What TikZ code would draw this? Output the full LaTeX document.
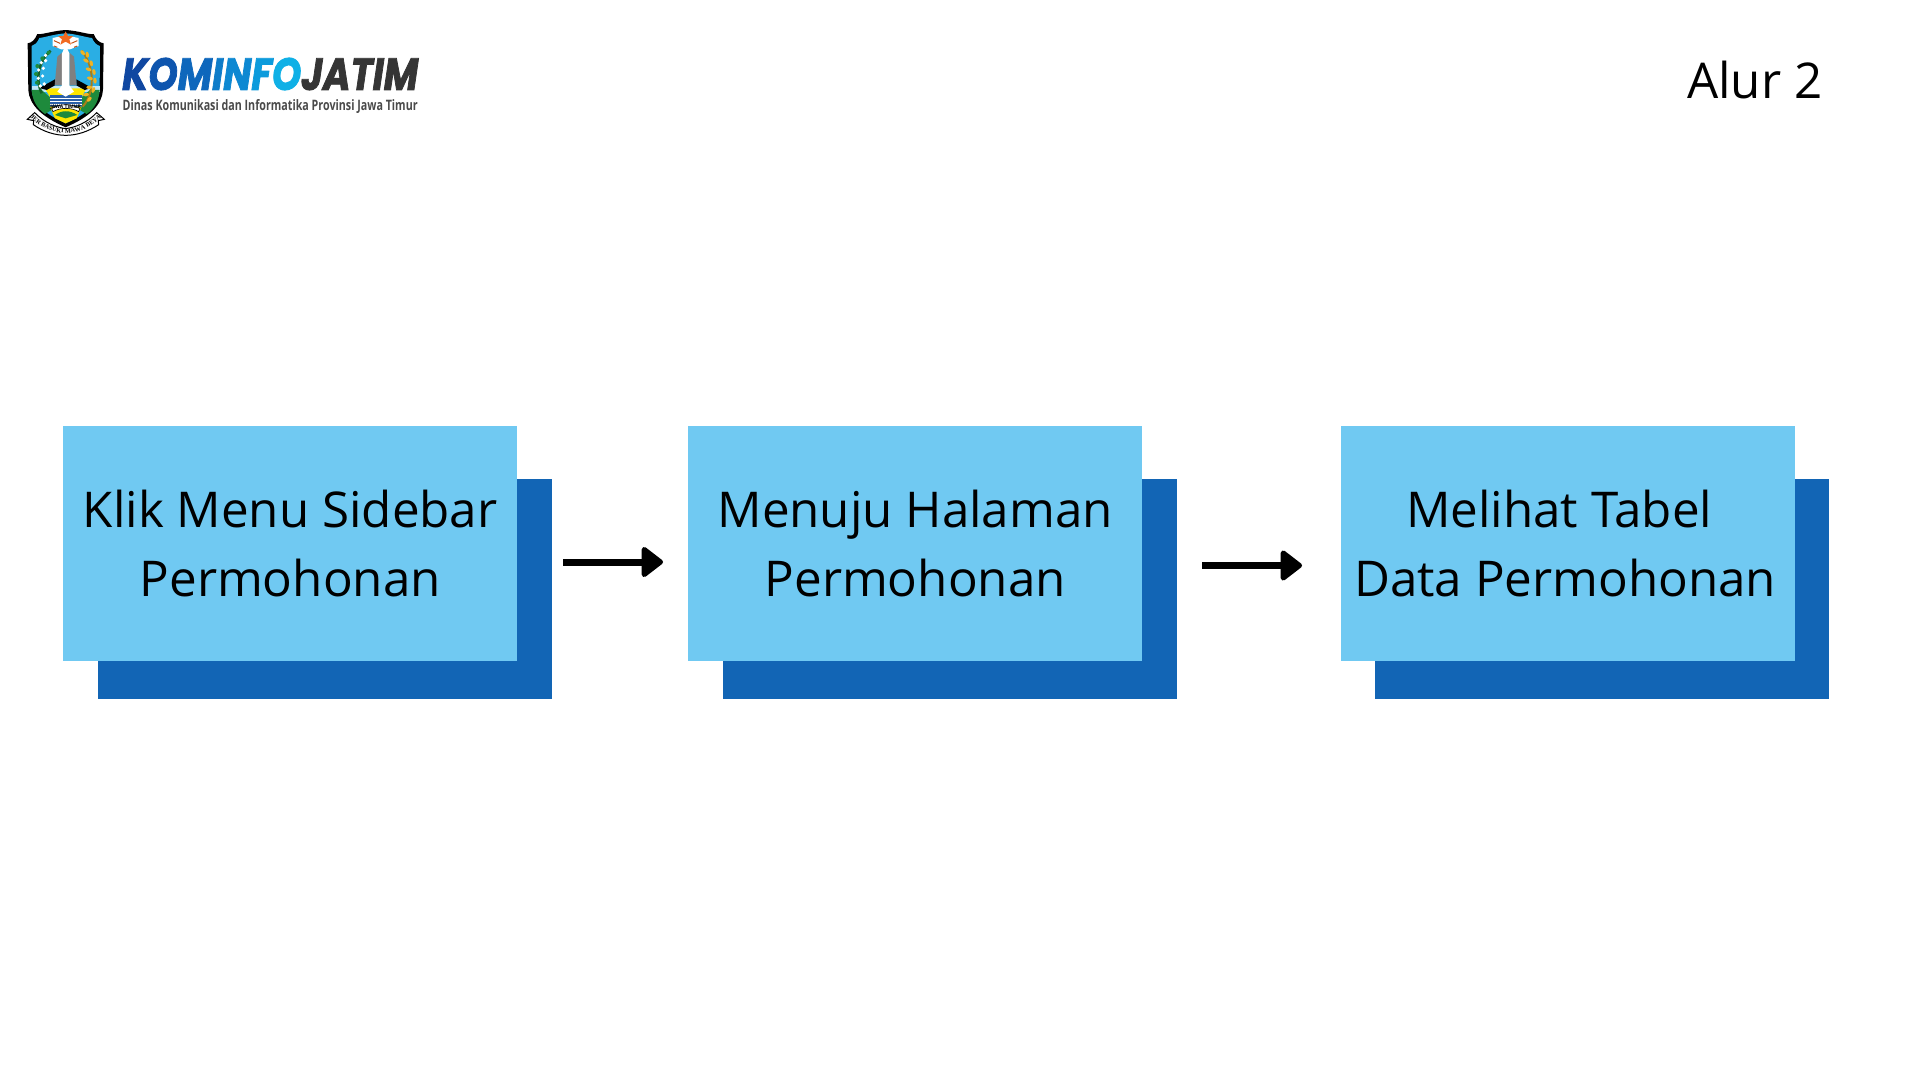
\documentclass[tikz,border=0pt]{standalone}
\usepackage{fontspec}
\usepackage{graphicx}
\setmainfont{Open Sans}
\newfontfamily\wordfont{Poppins}
\newfontfamily\mottofont{Liberation Serif}
\usetikzlibrary{arrows.meta,decorations.text}
\definecolor{lightbox}{HTML}{70C9F2}
\definecolor{darkbox}{HTML}{1265B5}
\definecolor{logoink}{HTML}{353535}
\definecolor{tagink}{HTML}{4A4A4A}
\definecolor{sky}{HTML}{2AAEE4}
\definecolor{leaf}{HTML}{1E8A3C}
\definecolor{grain}{HTML}{F0B323}
\definecolor{sun}{HTML}{FFE500}
\definecolor{sea}{HTML}{2B5FA8}
\definecolor{star}{HTML}{F26A21}
\tikzset{
  front/.style={fill=lightbox,draw=none,minimum width=454pt,minimum height=235pt,inner sep=0pt,anchor=north west,
    align=center,font=\fontsize{49.3}{69}\selectfont,text=black},
  back/.style={fill=darkbox,draw=none,minimum width=454pt,minimum height=220pt,inner sep=0pt,anchor=north west},
  flow/.style={line width=7pt,draw=black,-{Triangle[round,length=23pt,width=34pt,line width=5pt]}},
  title/.style={font=\fontsize{49.3}{60}\selectfont,text=black,inner sep=0pt},
}
\begin{document}
\begin{tikzpicture}[x=1pt,y=-1pt]
\useasboundingbox[fill=white] (0,0) rectangle (1920,1080);

% flow boxes
\node[back] (b1) at (97.5,479) {};
\node[back] (b2) at (722.5,479) {};
\node[back] (b3) at (1375,479) {};
\node[front] (f1) at (63,426) {Klik Menu Sidebar\\Permohonan};
\node[front] (f2) at (688,426) {Menuju Halaman\\Permohonan};
\node[front] (f3) at (1341,426) {\hspace*{-6pt}Melihat Tabel\hspace*{12pt}\\\hspace*{-6pt}Data Permohonan};

% arrows
\coordinate (a1s) at (563,562);
\coordinate (a1e) at (663,562);
\coordinate (a2s) at (1202,565.5);
\coordinate (a2e) at (1302,565.5);
\draw[flow] (a1s) -- (a1e);
\draw[flow] (a2s) -- (a2e);

% title
\node[title,anchor=base east] (alur) at (1822.5,98.5) {Alur 2};

% logo wordmark
\node[anchor=west,inner sep=0pt] (word) at (122,74) {\resizebox{296pt}{32pt}{\wordfont\addfontfeature{FakeBold=2}\fontsize{40}{40}\selectfont\itshape\bfseries
 \textcolor[HTML]{0F47A1}{K}\textcolor[HTML]{0E55AE}{O}\textcolor[HTML]{0E67BC}{M}\textcolor[HTML]{0E7CC9}{I}\textcolor[HTML]{0D88D2}{N}\textcolor[HTML]{0C9BDC}{F}\textcolor[HTML]{0FB0E6}{O}\textcolor{logoink}{JATIM}}};
\node[anchor=west,inner sep=0pt] (tag) at (122.5,106.5) {\resizebox{295pt}{11pt}{\color{tagink}\fontsize{14}{14}\selectfont\bfseries Dinas Komunikasi dan Informatika Provinsi Jawa Timur}};

% emblem, in the coordinates of a 3x crop
\begin{scope}[shift={(0,10)},x=0.3333pt,y=-0.3333pt]
 \fill[black] (197,60) .. controls (160,62) and (125,75) .. (112,72) .. controls (105,90) and (95,98) .. (83,100)
   -- (85,240) .. controls (88,285) and (125,320) .. (197,352) .. controls (270,320) and (306,285) .. (309,240) -- (311,100)
   .. controls (298,98) and (288,90) .. (281,72) .. controls (268,75) and (235,62) .. (197,60) -- cycle;
 \fill[sky] (197,70) .. controls (165,72) and (135,82) .. (118,84) .. controls (112,98) and (105,105) .. (95,108)
   -- (95,240) .. controls (98,280) and (135,312) .. (197,340) .. controls (260,312) and (296,280) .. (299,240) -- (300,108)
   .. controls (290,105) and (282,98) .. (276,84) .. controls (258,82) and (228,72) .. (197,70) -- cycle;
 % star and rays
 \fill[white] (197,76) -- (236,84) -- (236,108) -- (210,118) -- (184,118) -- (158,108) -- (158,84) -- cycle;
 \fill[star] (197,64) -- (204,78) -- (220,78) -- (208,88) -- (213,104) -- (197,95) -- (181,104) -- (186,88) -- (174,78) -- (190,78) -- cycle;
 \draw[star!80!black,line width=1pt] (180,100) -- (162,92) (214,100) -- (232,92) (172,112) -- (162,108) (222,112) -- (232,108);
 % water band and land
 \fill[white!70!sky] (95,228) -- (299,228) -- (299,246) -- (95,246) -- cycle;
 \fill[sun] (135,235) -- (259,235) -- (245,262) -- (150,262) -- cycle;
 % gears
 \fill[leaf] (95,240) -- (125,240) -- (150,262) -- (155,300) -- (135,312) .. controls (110,295) and (97,270) .. (95,240) -- cycle;
 \fill[leaf] (299,240) -- (270,240) -- (245,262) -- (240,300) -- (260,312) .. controls (285,295) and (297,270) .. (299,240) -- cycle;
 % sea
 \fill[sea] (150,256) -- (245,256) -- (245,290) -- (150,290) -- cycle;
 \draw[white,line width=0.7pt] (150,264) -- (245,264) (150,273) -- (245,273) (150,282) -- (245,282);
 % monument
 \fill[black] (118,234) -- (165,208) -- (165,226) -- (140,240) -- cycle;
 \fill[black] (276,234) -- (229,208) -- (229,226) -- (254,240) -- cycle;
 \fill[black!50] (172,140) -- (186,128) -- (186,226) -- (164,226) -- cycle;
 \fill[black!50] (222,140) -- (208,128) -- (208,226) -- (230,226) -- cycle;
 \fill[white] (186,226) -- (186,130) -- (197,105) -- (208,130) -- (208,226) -- (222,245) -- (197,260) -- (172,245) -- cycle;
 % cotton branch
 \draw[leaf!70!black,line width=2.5pt] (125,250) .. controls (105,205) and (115,155) .. (152,122);
 \foreach \p in {(121,228),(133,222),(115,205),(128,198),(116,180),(130,175),(124,158),(137,152),(137,136)}
   \fill[white] \p circle[radius=5.5];
 \foreach \p in {(146,128),(127,145),(112,168),(108,192),(111,218)}
   \fill[leaf] \p circle[radius=6];
 % rice branch
 \draw[grain!70!black,line width=2pt] (248,290) .. controls (285,250) and (285,170) .. (245,122);
 \foreach \p/\a in {(248,128)/40,(262,134)/10,(258,152)/60,(274,160)/10,(266,178)/70,(282,186)/10,(270,205)/75,(285,212)/5,(268,232)/90,(280,240)/-20,(258,254)/100,(268,268)/-40}
   \fill[grain,rotate around={\a:\p}] \p ellipse[x radius=5,y radius=9];
 % lower panel
 \fill[sun] (150,290) -- (245,290) -- (230,325) -- (197,340) -- (165,325) -- cycle;
 \fill[leaf] (165,315) .. controls (185,300) and (210,300) .. (232,315) -- (197,325) -- cycle;
 % upper ribbon jawa timur
 \fill[white,draw=black,line width=.6pt] (155,296) .. controls (180,280) and (215,280) .. (240,296) -- (236,305) .. controls (215,292) and (180,292) .. (159,305) -- cycle;
 \node[font=\fontsize{5}{5}\selectfont\bfseries,inner sep=0pt] (jt) at (197,291) {JAWA TIMUR};
 % motto ribbon
 \fill[white,draw=black,line width=1pt] (82,328) -- (104,308) .. controls (135,340) and (170,352) .. (197,356)
   .. controls (225,352) and (260,340) .. (290,308) -- (313,328) -- (295,332) -- (296,344) .. controls (265,365) and (230,376) .. (197,376)
   .. controls (165,376) and (130,365) .. (100,344) -- (101,332) -- cycle;
 \path[decorate,decoration={text along path,text align=center,
   text={|\fontsize{6.3}{6.3}\mottofont\bfseries|JER BASUKI MAWA BEYA}}]
   (94,326) .. controls (130,358) and (165,369) .. (197,369) .. controls (229,369) and (264,358) .. (300,326);
\end{scope}
\end{tikzpicture}
\end{document}
